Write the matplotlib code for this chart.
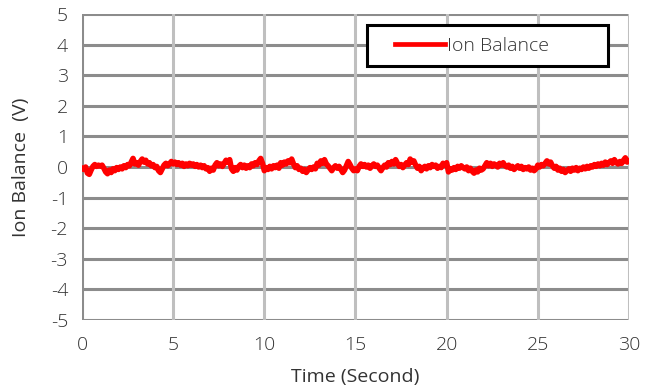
import numpy as np
from matplotlib import pyplot as plt
from matplotlib.legend_handler import HandlerLine2D

# ion balance readings (V), one row per second, sampled every 0.1 s
ion_balance = [
    -0.04, -0.08, 0.0, -0.2, -0.24, -0.1, 0.02, 0.08, 0.02, 0.06,
    0.03, 0.06, -0.04, -0.16, -0.22, -0.1, -0.18, -0.06, -0.12, -0.02,
    -0.08, 0.0, -0.06, 0.04, -0.02, 0.08, 0.04, 0.16, 0.28, 0.1,
    0.14, 0.06, 0.18, 0.26, 0.16, 0.22, 0.1, 0.14, 0.04, 0.08,
    -0.02, 0.02, -0.12, -0.18, -0.06, 0.06, 0.12, 0.04, 0.1, 0.18,
    0.1, 0.16, 0.08, 0.14, 0.06, 0.12, 0.02, 0.1, 0.04, 0.12,
    0.06, 0.1, 0.02, 0.08, 0.0, 0.06, -0.02, 0.04, -0.06, -0.02,
    -0.14, -0.04, -0.1, 0.06, 0.14, 0.04, 0.1, 0.02, 0.12, 0.22,
    0.16, 0.24, -0.06, -0.14, -0.02, -0.1, 0.02, 0.08, -0.02, 0.06,
    -0.04, 0.04, -0.02, 0.1, 0.04, 0.14, 0.08, 0.2, 0.28, 0.12,
    -0.12, -0.02, -0.08, 0.02, -0.06, 0.04, -0.02, 0.06, -0.04, 0.14,
    0.06, 0.16, 0.1, 0.2, 0.14, 0.26, 0.1, -0.02, 0.04, -0.08,
    -0.04, -0.14, -0.08, -0.18, -0.1, -0.02, -0.08, 0.0, -0.06, 0.12,
    0.06, 0.2, 0.12, 0.24, 0.1, 0.04, -0.04, -0.12, -0.02, 0.04,
    -0.04, 0.02, -0.08, -0.18, -0.1, 0.04, 0.18, 0.08, -0.04, -0.12,
    -0.06, -0.12, 0.02, 0.1, 0.02, 0.08, 0.0, 0.06, -0.04, 0.04,
    0.1, 0.02, 0.06, -0.04, -0.12, -0.02, 0.06, 0.0, 0.14, 0.08,
    0.18, 0.1, 0.24, 0.12, 0.02, 0.08, -0.02, 0.06, 0.14, 0.08,
    0.26, 0.16, 0.2, 0.06, -0.04, 0.02, -0.12, -0.04, 0.02, -0.06,
    0.04, -0.02, 0.08, 0.02, 0.06, -0.04, 0.02, -0.02, 0.12, 0.06,
    0.14, -0.16, -0.06, -0.1, -0.02, -0.08, 0.02, -0.04, 0.04, -0.02,
    -0.06, 0.0, -0.12, -0.04, -0.14, -0.2, -0.1, -0.16, -0.04, -0.1,
    -0.06, 0.04, 0.14, 0.04, 0.12, 0.02, 0.1, 0.06, 0.0, 0.12,
    0.06, 0.14, 0.04, 0.0, 0.06, -0.04, 0.02, -0.08, -0.02, 0.04,
    -0.04, 0.02, -0.08, -0.02, -0.06, 0.0, -0.1, -0.04, -0.12, -0.06,
    0.06, 0.0, 0.08, 0.04, 0.12, 0.2, 0.1, 0.16, 0.04, -0.04,
    0.02, -0.1, -0.04, -0.14, -0.08, -0.18, -0.12, -0.06, -0.14, -0.04,
    -0.1, -0.02, -0.12, -0.04, -0.08, 0.0, -0.06, 0.02, -0.04, 0.04,
    0.0, 0.08, 0.02, 0.1, 0.04, 0.12, 0.06, 0.16, 0.08, 0.14,
    0.2, 0.12, 0.24, 0.14, 0.1, 0.18, 0.12, 0.22, 0.3, 0.16,
    0.2,
]
time_s = np.linspace(0, 30, len(ion_balance))

x_ticks = [0, 5, 10, 15, 20, 25, 30]
y_ticks = [-5, -4, -3, -2, -1, 0, 1, 2, 3, 4, 5]

plt.rcParams['font.family'] = ['Open Sans', 'DejaVu Sans']
plt.rcParams['font.weight'] = 'light'
plt.rcParams['axes.unicode_minus'] = False
txt_color = '#333333'

fig = plt.figure(figsize=(6.58, 3.9), dpi=100)
ax = fig.add_axes([0.1246, 0.1795, 0.8313, 0.7846])

# excel-like grid: darker horizontal lines, lighter vertical ones
for y in y_ticks:
    ax.axhline(y, color='#8c8c8c', lw=2.2, zorder=1)
for x in x_ticks[1:]:
    ax.axvline(x, color='#bfbfbf', lw=2.2, zorder=1)
ax.axvline(0, color='#8c8c8c', lw=2.2, zorder=1)

ax.plot(time_s, ion_balance, color='#ff0000', lw=4, label='Ion Balance', zorder=3)

ax.set_xlim(0, 30)
ax.set_ylim(-5, 5)
ax.set_xticks(x_ticks)
ax.set_yticks(y_ticks)
for s in ax.spines.values():
    s.set_visible(False)
ax.tick_params(length=0, labelsize=14, colors=txt_color)
ax.tick_params(axis='x', pad=11.5)
ax.tick_params(axis='y', pad=10)

ax.set_xlabel('Time (Second)', fontsize=14, color=txt_color, labelpad=10)
ax.set_ylabel('Ion Balance  (V)', fontsize=14, color=txt_color, labelpad=15)

leg = ax.legend(bbox_to_anchor=(0.521, 0.824, 0.441, 0.14), mode='expand',
                loc='upper left', borderaxespad=0, fontsize=14, frameon=True,
                fancybox=False, handlelength=3.4, handletextpad=0.1,
                borderpad=0.6,
                handler_map={plt.Line2D: HandlerLine2D(xpad=0.82)})
leg.get_frame().set_edgecolor('black')
leg.get_frame().set_linewidth(2.2)
leg.get_frame().set_alpha(1)
leg.get_lines()[0].set_linewidth(3.4)
for t in leg.get_texts():
    t.set_color(txt_color)
leg.set_zorder(5)

fig.savefig('out.png', dpi=100)
